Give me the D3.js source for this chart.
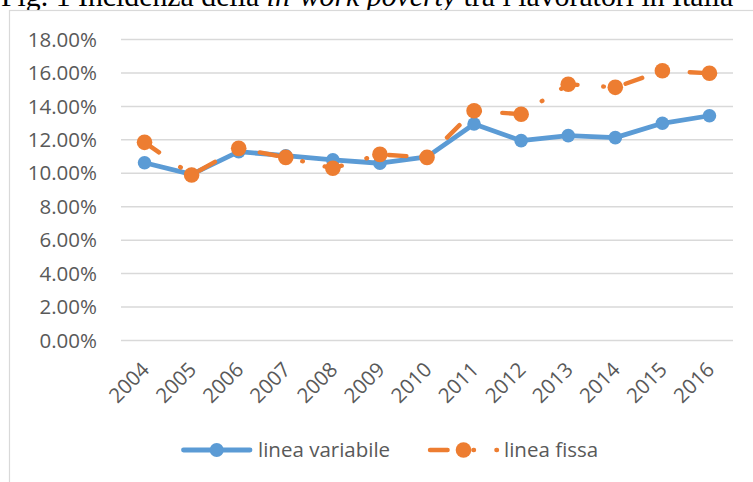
<!DOCTYPE html>
<html><head><meta charset="utf-8">
<script src="https://cdn.jsdelivr.net/npm/d3@7"></script>
<style>html,body{margin:0;padding:0;background:#fff;overflow:hidden}</style>
</head><body>
<script>
const years = ["2004","2005","2006","2007","2008","2009","2010","2011","2012","2013","2014","2015","2016"];
const lineaVariabile = [10.6, 9.9, 11.26, 11.02, 10.77, 10.57, 10.95, 12.92, 11.92, 12.22, 12.1, 12.96, 13.41];
const lineaFissa = [11.82, 9.87, 11.46, 10.92, 10.27, 11.1, 10.92, 13.71, 13.5, 15.29, 15.11, 16.1, 15.95];
const yTicks = [0, 2, 4, 6, 8, 10, 12, 14, 16, 18];
const seriesNames = ["linea variabile", "linea fissa"];

const W = 753, H = 482;
const svg = d3.select("body").append("svg").attr("width", W).attr("height", H);

// title (partially cut at top, as in the reference)
const title = svg.append("text").attr("x", 1).attr("y", 5.5)
  .attr("font-family", "'Liberation Serif', 'Times New Roman', serif")
  .attr("font-size", 29.8).attr("fill", "#000");
title.append("tspan").text("Fig. 1 Incidenza della ");
title.append("tspan").attr("font-style", "italic").text("in-work poverty");
title.append("tspan").text(" tra i lavoratori in Italia");

// chart frame
svg.append("rect").attr("x", 9.5).attr("y", 10.5).attr("width", 800).attr("height", 600)
  .attr("fill", "#fff").attr("stroke", "#d9d9d9").attr("stroke-width", 1.2);

const x = d3.scaleBand().domain(years).range([121, 733]);
const y = d3.scaleLinear().domain([0, 18]).range([340, 39]);
const cx = d => x(d) + x.bandwidth() / 2;

const font = "'Open Sans', 'Liberation Sans', sans-serif";
const txt = "#595959";

// gridlines + y labels
const yAxis = d3.axisLeft(y).tickValues(yTicks).tickSize(-(733 - 121)).tickPadding(24)
  .tickFormat(d => d.toFixed(2) + "%");
const gy = svg.append("g").attr("transform", "translate(121,0)").call(yAxis);
gy.select(".domain").remove();
gy.selectAll(".tick line").attr("stroke", "#d9d9d9").attr("stroke-width", 1.5);
gy.selectAll(".tick text").attr("fill", txt).attr("font-family", font).attr("font-size", 20.5)
  .attr("dy", "0.35em");

// x labels
const xAxis = d3.axisBottom(x).tickSize(0).tickPadding(0);
const gx = svg.append("g").attr("transform", "translate(0,340)").call(xAxis);
gx.select(".domain").remove();
gx.selectAll(".tick text").attr("fill", txt).attr("font-family", font).attr("font-size", 20.5)
  .attr("text-anchor", "end").attr("dy", 0).attr("y", 0)
  .attr("transform", "translate(6,31) rotate(-45)");

const blue = "#5B9BD5", orange = "#ED7D31";
const line = d3.line().x((d, i) => cx(years[i])).y(d => y(d));

// blue series
svg.append("path").datum(lineaVariabile).attr("d", line).attr("fill", "none")
  .attr("stroke", blue).attr("stroke-width", 4.8).attr("stroke-linejoin", "round").attr("stroke-linecap", "round");
svg.selectAll("circle.b").data(lineaVariabile).enter().append("circle").attr("class", "b")
  .attr("cx", (d, i) => cx(years[i])).attr("cy", d => y(d)).attr("r", 6.8).attr("fill", blue);

// orange series
const dash = "17.6,25.8,0.6,22.4";
svg.append("path").datum(lineaFissa).attr("d", line).attr("fill", "none")
  .attr("stroke", orange).attr("stroke-width", 4.4).attr("stroke-linejoin", "round").attr("stroke-linecap", "round")
  .attr("stroke-dasharray", dash);
svg.selectAll("circle.o").data(lineaFissa).enter().append("circle").attr("class", "o")
  .attr("cx", (d, i) => cx(years[i])).attr("cy", d => y(d)).attr("r", 7.8).attr("fill", orange);

// legend
const ly = 450;
const lg = svg.append("g");
lg.append("line").attr("x1", 183.5).attr("x2", 250).attr("y1", ly).attr("y2", ly)
  .attr("stroke", blue).attr("stroke-width", 4.8).attr("stroke-linecap", "round");
lg.append("circle").attr("cx", 216.7).attr("cy", ly).attr("r", 7).attr("fill", blue);
lg.append("text").attr("x", 258).attr("y", ly + 6.5).attr("fill", txt).attr("font-family", font)
  .attr("font-size", 20.5).text(seriesNames[0]);

lg.append("line").attr("x1", 430).attr("x2", 497).attr("y1", ly).attr("y2", ly)
  .attr("stroke", orange).attr("stroke-width", 4.4).attr("stroke-linecap", "round")
  .attr("stroke-dasharray", dash);
lg.append("circle").attr("cx", 463.5).attr("cy", ly).attr("r", 7.8).attr("fill", orange);
lg.append("text").attr("x", 504).attr("y", ly + 6.5).attr("fill", txt).attr("font-family", font)
  .attr("font-size", 20.5).text(seriesNames[1]);
</script>
</body></html>
